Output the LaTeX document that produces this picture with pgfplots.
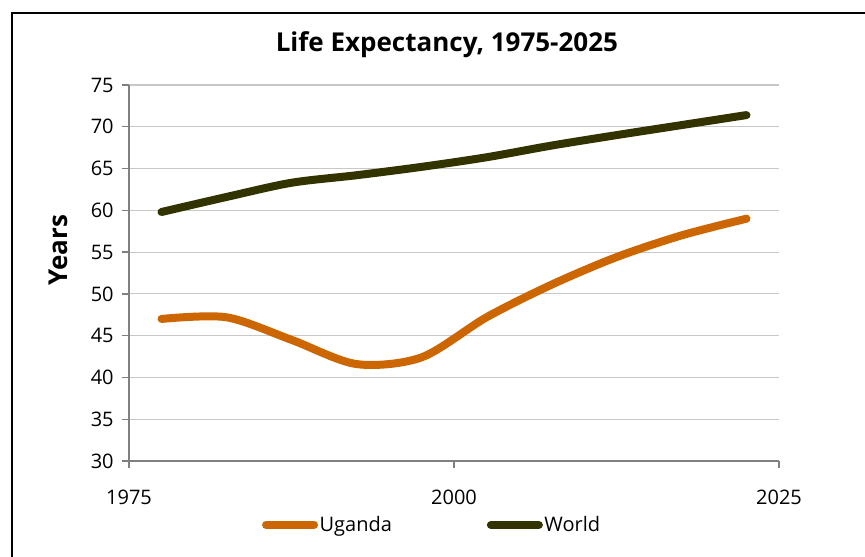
\documentclass[border=0pt]{standalone}
\usepackage{fontspec}
\setmainfont{Open Sans}
\usepackage{pgfplots}
\pgfplotsset{compat=1.18}
\definecolor{uganda}{HTML}{CC6600}
\definecolor{world}{HTML}{333300}
\definecolor{axgray}{HTML}{808080}
\definecolor{gridgray}{HTML}{C8C8C8}
\begin{document}
\begin{tikzpicture}
\useasboundingbox (0,0) rectangle (648.75pt,417.75pt);
\draw[line width=1.5pt] (9pt,-20pt) -- (9pt,408pt) -- (670pt,408pt);
\begin{axis}[
  at={(96.75pt,72pt)}, anchor=south west,
  scale only axis, width=487.5pt, height=282pt,
  xmin=1975, xmax=2025, ymin=30, ymax=75,
  xtick={1975,2000,2025}, ytick={30,35,...,75},
  axis x line=bottom, axis y line=left,
  axis line style={-, draw=axgray, line width=1.3pt},
  tick align=outside, major tick length=5pt,
  tick style={draw=axgray, line width=1pt},
  ymajorgrids, grid style={draw=gridgray, line width=0.8pt},
  /pgf/number format/1000 sep=,
  /pgf/number format/assume math mode=true,
  tick label style={font=\fontsize{15}{18}\selectfont},
  xticklabel style={yshift=-13pt},
  yticklabel style={xshift=-3pt},
  title={\textbf{Life Expectancy, 1975-2025}},
  title style={at={(0.489,1)}, anchor=base, yshift=19pt, font=\fontsize{19.5}{23}\selectfont},
  ylabel={\textbf{Years}},
  ylabel style={at={(axis description cs:-0.109,0.561)}, anchor=center, rotate=0, font=\fontsize{19.5}{23}\selectfont},
  legend style={at={(0.466,-0.17)}, anchor=center, draw=none, legend columns=2,
    font=\fontsize{15}{18}\selectfont, nodes={inner xsep=1.2pt},
    /tikz/every even column/.append style={column sep=70pt}},
  legend cell align=left,
  legend image code/.code={\draw[#1, line cap=round] (0pt,0pt) -- (36pt,0pt);},
]
\addplot[uganda, line width=6pt, smooth, line cap=round] coordinates {
(1977.5,47.0) (1982.5,47.2) (1987.5,44.5) (1992.5,41.6) (1997.5,42.4)
(2002.5,47.2) (2007.5,51.1) (2012.5,54.4) (2017.5,57.0) (2022.5,59.0)};
\addplot[world, line width=6pt, smooth, line cap=round] coordinates {
(1977.5,59.8) (1982.5,61.6) (1987.5,63.3) (1992.5,64.2) (1997.5,65.2)
(2002.5,66.35) (2007.5,67.75) (2012.5,69.0) (2017.5,70.2) (2022.5,71.4)};
\legend{Uganda, World}
\end{axis}
\end{tikzpicture}
\end{document}
